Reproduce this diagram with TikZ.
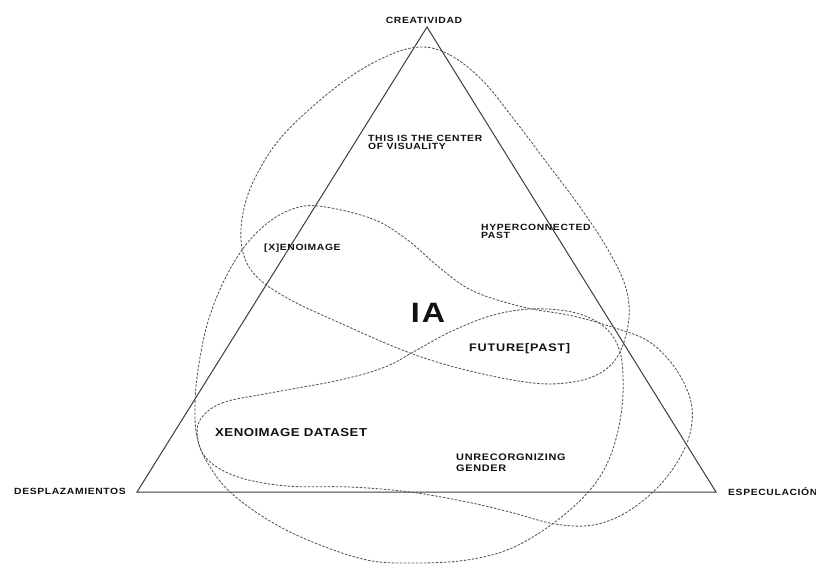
\documentclass[tikz,border=0pt]{standalone}
\usepackage{fontspec}
\newfontfamily\labfont{Liberation Sans Bold}[FakeStretch=1.15,LetterSpace=7]
\definecolor{ink}{HTML}{111111}
\definecolor{tri}{HTML}{3C3C3C}
\definecolor{dash}{HTML}{555555}
\begin{document}
\begin{tikzpicture}[x=1pt,y=-1pt,
  lab/.style={inner sep=0pt,text=ink,font=\labfont\fontsize{9}{8}\selectfont,align=left},
  tri/.style={draw=tri,line width=1pt,line join=miter},
  blob/.style={draw=dash,line width=0.85pt,dash pattern=on 2.5pt off 1.5pt}]
\useasboundingbox (0,0) rectangle (816,563);
% triangle
\coordinate (top) at (427,27);
\coordinate (left) at (137,492);
\coordinate (right) at (716,492);
\draw[tri] (top) -- (left) -- (right) -- cycle;
% curve A (top blob)
\draw[blob] plot[smooth cycle,tension=0.6] coordinates {
 (420,47) (450,55) (482,80) (513,118) (547,163) (580,207) (607,248) (625,285)
 (629,318) (620,352) (602,372) (573,382) (533,383) (470,371) (410,353) (340,323)
 (287,298) (255,275) (242,248) (243,213) (256,176) (285,133) (340,84) (385,57)};
% curve B ([X]enoimage blob)
\draw[blob] plot[smooth cycle,tension=0.6] coordinates {
 (318,206) (370,218) (405,238) (440,268) (473,291) (523,307) (573,316) (615,328)
 (648,341) (673,365) (689,395) (692,422) (683,452) (660,485) (627,512) (593,525)
 (555,524) (510,512) (467,502) (410,492) (350,487) (287,486) (238,477) (208,460)
 (197,437) (195,405) (198,370) (207,325) (222,285) (242,250) (265,225) (290,210)};
% curve C (dataset blob)
\draw[blob] plot[smooth cycle,tension=0.6] coordinates {
 (200,420) (222,403) (270,393) (340,380) (385,367) (415,351) (450,332) (490,316)
 (530,309) (572,312) (602,325) (618,346) (623,375) (621,415) (610,457) (590,490)
 (555,522) (512,548) (467,560) (415,563) (367,560) (310,541) (265,518) (228,490)
 (207,462) (198,440)};
% labels
\node[lab,anchor=base] (crea) at (424,23.5) {CREATIVIDAD};
\node[lab,anchor=base west] (desp) at (14,494.5) {DESPLAZAMIENTOS};
\node[lab,anchor=base west] (espe) at (728,495) {ESPECULACIÓN};
\node[lab,anchor=base west] (center) at (368,149.3) {THIS IS THE CENTER\\OF VISUALITY};
\node[lab,anchor=base west] (hyper) at (481,238.5) {HYPERCONNECTED\\PAST};
\node[lab,anchor=base west] (xeno) at (264,250.5) {[X]ENOIMAGE};
\node[lab,anchor=base,font=\labfont\fontsize{28}{30}\selectfont] (ia) at (428,322) {IA};
\node[lab,anchor=base west,font=\labfont\fontsize{11}{12}\selectfont] (future) at (469,351) {FUTURE[PAST]};
\node[lab,anchor=base west,font=\labfont\fontsize{11.5}{12}\selectfont\addfontfeatures{LetterSpace=4}] (dataset) at (215,436.3) {XENOIMAGE DATASET};
\node[lab,anchor=base west,font=\labfont\fontsize{9.5}{11}\selectfont] (unrec) at (456,471.5) {UNRECORGNIZING\\GENDER};
\end{tikzpicture}
\end{document}
